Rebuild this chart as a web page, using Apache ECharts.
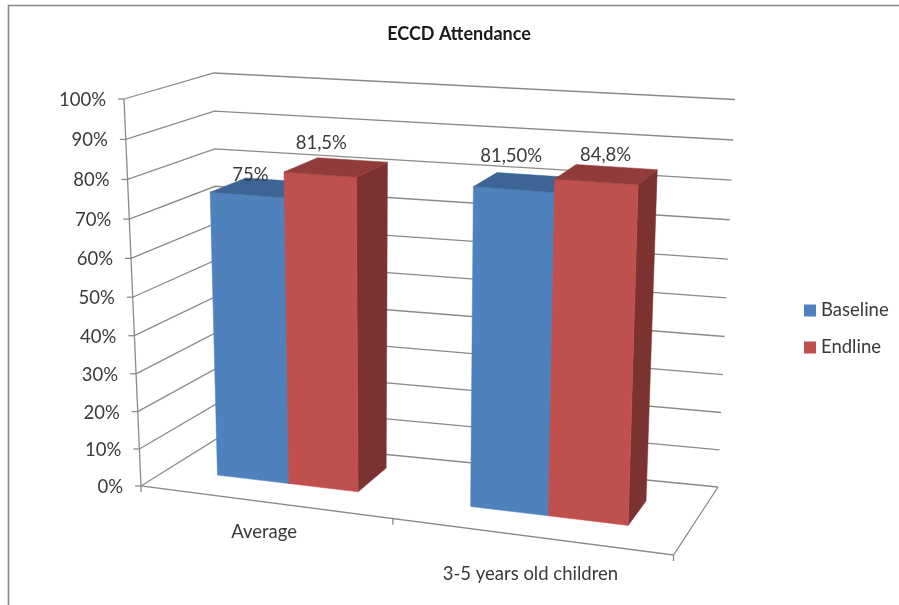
<!DOCTYPE html>
<html>
<head>
<meta charset="utf-8">
<style>html,body{margin:0;padding:0;background:#fff}#chart{width:899px;height:605px}</style>
<script src="https://cdn.jsdelivr.net/npm/echarts@6/dist/echarts.min.js"></script>
</head>
<body>
<div id="chart"></div>
<script>
// Chart data
const categories = ['Average', '3-5 years old children'];
const baseline = [75, 81.5];
const endline = [81.5, 84.8];
const baselineLabels = ['75%', '81,50%'];
const endlineLabels = ['81,5%', '84,8%'];
const tickValues = [0, 10, 20, 30, 40, 50, 60, 70, 80, 90, 100];

// Screen position of the eight corners of the 3D plot box
const box = {
  flb: [141, 486], flt: [124, 99],
  frb: [673.5, 555], frt: [687.5, 137],
  blb: [218, 438], blt: [214, 73],
  brb: [718, 487], brt: [735, 99.5]
};
// Bar placement inside the box, per category: u edges and depth range
const layout = [
  { u: [0.095, 0.232, 0.365], w: [0.35, 0.78] },
  { u: [0.583, 0.732, 0.885], w: [0.33, 0.7] }
];
const baselineOffset = [[-14, -13], [-14, -26]];
const endlineOffset = [[-15, -24], [-1, -19]];
const categoryOffset = [[-10, 29], [-10, 36]];
const dividerU = 0.473;
const verticalPerspective = 1.05;

const textColor = '#3a3a3a';
const lineColor = '#8a8a8a';
const font = '18.5px Lato, sans-serif';

function lerp(a, b, t) { return [a[0] + (b[0] - a[0]) * t, a[1] + (b[1] - a[1]) * t]; }

// Projection of box coordinates onto the canvas; height is foreshortened towards the top
function project(u, v, w) {
  const t = v / (v + (1 - v) * verticalPerspective);
  const fb = lerp(box.flb, box.frb, u), ft = lerp(box.flt, box.frt, u);
  const bb = lerp(box.blb, box.brb, u), bt = lerp(box.blt, box.brt, u);
  return lerp(lerp(fb, ft, t), lerp(bb, bt, t), w);
}

// Normalised height for a value, taken from the chart's hidden value axis
function heightOf(api, params, value) {
  const cs = params.coordSys;
  const p = api.coord([0, value]);
  return 1 - (p[1] - cs.y) / cs.height;
}

function poly(points, fill) {
  return { type: 'polygon', shape: { points }, style: { fill, stroke: fill, lineWidth: 0.5 } };
}
function line(points, width) {
  return { type: 'polyline', shape: { points }, style: { fill: 'none', stroke: lineColor, lineWidth: width || 1.3 } };
}

function barRenderer(slot, colors, labels, offsets) {
  return function (params, api) {
    const i = api.value(0);
    const v = heightOf(api, params, api.value(1));
    const g = layout[i];
    const u0 = g.u[slot], u1 = g.u[slot + 1], w0 = g.w[0], w1 = g.w[1];
    const c = project((u0 + u1) / 2, v, (w0 + w1) / 2);
    return {
      type: 'group',
      children: [
        poly([project(u1, 0, w0), project(u1, 0, w1), project(u1, v, w1), project(u1, v, w0)], colors.side),
        poly([project(u0, 0, w0), project(u1, 0, w0), project(u1, v, w0), project(u0, v, w0)], colors.front),
        poly([project(u0, v, w0), project(u1, v, w0), project(u1, v, w1), project(u0, v, w1)], colors.top),
        {
          type: 'text', z2: 10,
          style: {
            text: labels[i], x: c[0] + offsets[i][0], y: c[1] + offsets[i][1],
            align: 'center', verticalAlign: 'middle', fill: textColor, font
          }
        }
      ]
    };
  };
}

const blue = { front: '#4f81bd', top: '#3c6494', side: '#3c6494' };
const red = { front: '#c0504d', top: '#913c3a', side: '#7c3230' };

const option = {
  animation: false,
  backgroundColor: '#ffffff',
  title: {
    text: 'ECCD Attendance', left: 454, top: 20, textAlign: 'center',
    textStyle: { fontFamily: 'Lato, sans-serif', fontSize: 18, fontWeight: 'bold', color: '#1a1a1a' }
  },
  legend: {
    orient: 'vertical', left: 799, top: 296, itemWidth: 12, itemHeight: 12, itemGap: 18,
    icon: 'rect', data: ['Baseline', 'Endline'], selectedMode: false,
    textStyle: { fontFamily: 'Lato, sans-serif', fontSize: 18.5, color: textColor }
  },
  grid: { left: 0, top: 0, width: 899, height: 605, containLabel: false },
  xAxis: { type: 'value', min: 0, max: 1, show: false },
  yAxis: { type: 'value', min: 0, max: 100, interval: 10, show: false },
  graphic: [{
    type: 'rect', silent: true, z: -1,
    shape: { x: 8.5, y: 5.5, width: 1000, height: 1000 },
    style: { fill: 'none', stroke: '#868686', lineWidth: 1.6 }
  }],
  series: [
    {
      // Gridlines along the side and back walls, with their tick labels
      type: 'custom', name: 'grid', z: 1, silent: true, clip: false,
      data: tickValues.map(t => [t]),
      encode: { y: 0 },
      renderItem(params, api) {
        const t = api.value(0);
        const v = heightOf(api, params, t);
        const a = project(0, v, 0);
        return {
          type: 'group',
          children: [
            line([a, project(0, v, 1), project(1, v, 1)]),
            line([[a[0] - 6, a[1]], a]),
            {
              type: 'text',
              style: {
                text: t + '%', x: a[0] - 18, y: a[1] + 1,
                align: 'right', verticalAlign: 'middle', fill: textColor, font
              }
            }
          ]
        };
      }
    },
    {
      // Value axis line, floor edges and category ticks
      type: 'custom', name: 'frame', z: 1, silent: true, clip: false,
      data: [[0]],
      renderItem() {
        const fl = project(0, 0, 0), mid = project(dividerU, 0, 0), fr = project(1, 0, 0);
        return {
          type: 'group',
          children: [
            line([project(0, 1, 0), fl, fr, project(1, 0, 1)]),
            line([fl, [fl[0], fl[1] + 6]]),
            line([mid, [mid[0], mid[1] + 6]]),
            line([fr, [fr[0], fr[1] + 6]])
          ]
        };
      }
    },
    {
      // Category names beneath the floor's front edge
      type: 'custom', name: 'categories', z: 1, silent: true, clip: false,
      data: categories.map((c, i) => [i]),
      renderItem(params, api) {
        const i = api.value(0);
        const p = project((i * 2 + 1) / 4, 0, 0);
        return {
          type: 'text',
          style: {
            text: categories[i], x: p[0] + categoryOffset[i][0], y: p[1] + categoryOffset[i][1],
            align: 'center', verticalAlign: 'middle', fill: textColor, font
          }
        };
      }
    },
    {
      type: 'custom', name: 'Baseline', z: 2, silent: true, clip: false,
      itemStyle: { color: blue.front },
      data: baseline.map((v, i) => [i, v]),
      renderItem: barRenderer(0, blue, baselineLabels, baselineOffset)
    },
    {
      type: 'custom', name: 'Endline', z: 3, silent: true, clip: false,
      itemStyle: { color: red.front },
      data: endline.map((v, i) => [i, v]),
      renderItem: barRenderer(1, red, endlineLabels, endlineOffset)
    }
  ]
};

echarts.init(document.getElementById('chart')).setOption(option);
</script>
</body>
</html>
